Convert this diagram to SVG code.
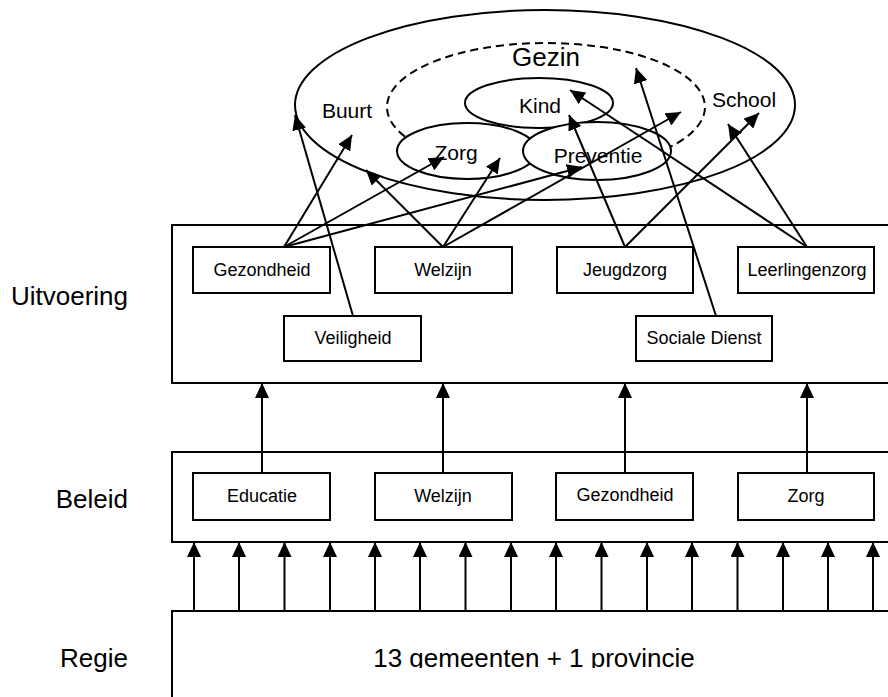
<svg xmlns="http://www.w3.org/2000/svg" width="888" height="697" viewBox="0 0 888 697">
<style>
text{font-family:"Liberation Sans",Arial,sans-serif;fill:#000}
.box{fill:#fff;stroke:#000;stroke-width:2}
.ell{fill:#fff;stroke:#000;stroke-width:2}
.dash{fill:none;stroke:#000;stroke-width:2;stroke-dasharray:8,5}
.lbl{font-size:26px}
.el{font-size:21px;text-anchor:middle}
.bt{font-size:18px;text-anchor:middle}
.con line{stroke:#000;stroke-width:2;marker-end:url(#ah)}
</style>
<defs>
<marker id="ah" markerUnits="userSpaceOnUse" markerWidth="15" markerHeight="14" refX="15" refY="7" orient="auto"><path d="M0,0 L15,7 L0,14 z" fill="#000"/></marker>
<clipPath id="clipb"><rect x="0" y="0" width="888" height="668"/></clipPath>
</defs>
<rect width="888" height="697" fill="#fff"/>

<g id="label-uitvoering"><text class="lbl" x="128" y="305" text-anchor="end">Uitvoering</text></g>
<g id="label-beleid"><text class="lbl" x="128" y="508" text-anchor="end">Beleid</text></g>
<g id="label-regie"><text class="lbl" x="128" y="667" text-anchor="end">Regie</text></g>

<g id="buurt"><ellipse class="ell" cx="545" cy="105" rx="250" ry="95"/><text class="el" x="347" y="118">Buurt</text></g>
<g id="school"><text class="el" x="744" y="107">School</text></g>
<g id="gezin"><path class="dash" d="M405,136.6 A159,64 0 1 1 660,151.6"/><text x="546" y="66" font-size="26" text-anchor="middle">Gezin</text></g>
<g id="kind"><ellipse class="ell" cx="539" cy="103" rx="74" ry="25"/><text class="el" x="540" y="113">Kind</text></g>
<g id="zorg"><ellipse class="ell" cx="467" cy="151" rx="70" ry="28"/><text class="el" x="456" y="160">Zorg</text></g>
<g id="preventie"><ellipse class="ell" cx="597" cy="151" rx="74" ry="29"/><text class="el" x="598" y="163">Preventie</text></g>

<g id="uitvoering"><rect class="box" x="172" y="225" width="720" height="158"/></g>
<g id="u-gezondheid"><rect class="box" x="193" y="247" width="137" height="46"/><text class="bt" x="262" y="276">Gezondheid</text></g>
<g id="u-welzijn"><rect class="box" x="375" y="247" width="137" height="46"/><text class="bt" x="443" y="276">Welzijn</text></g>
<g id="u-jeugdzorg"><rect class="box" x="557" y="247" width="136" height="46"/><text class="bt" x="625" y="276">Jeugdzorg</text></g>
<g id="u-leerlingenzorg"><rect class="box" x="738" y="247" width="136" height="46"/><text class="bt" x="807" y="276">Leerlingenzorg</text></g>
<g id="u-veiligheid"><rect class="box" x="284" y="316" width="137" height="45"/><text class="bt" x="353" y="344">Veiligheid</text></g>
<g id="u-sociale-dienst"><rect class="box" x="636" y="316" width="136" height="45"/><text class="bt" x="704" y="344">Sociale Dienst</text></g>

<g id="beleid"><rect class="box" x="172" y="452" width="720" height="90"/></g>
<g id="b-educatie"><rect class="box" x="193" y="473" width="137" height="47"/><text class="bt" x="262" y="502">Educatie</text></g>
<g id="b-welzijn"><rect class="box" x="375" y="473" width="137" height="47"/><text class="bt" x="443" y="502">Welzijn</text></g>
<g id="b-gezondheid"><rect class="box" x="556" y="473" width="137" height="47"/><text class="bt" x="625" y="501">Gezondheid</text></g>
<g id="b-zorg"><rect class="box" x="738" y="473" width="136" height="47"/><text class="bt" x="806" y="502">Zorg</text></g>

<g id="regie"><rect class="box" x="172" y="611" width="720" height="100"/><text x="534" y="667" font-size="26" text-anchor="middle" clip-path="url(#clipb)">13 gemeenten + 1 provincie</text></g>

<g id="connectors" class="con">
<line x1="353" y1="316" x2="295" y2="115"/>
<line x1="284" y1="247" x2="352" y2="135"/>
<line x1="284" y1="247" x2="444" y2="157"/>
<line x1="284" y1="247" x2="582" y2="167"/>
<line x1="443" y1="247" x2="366" y2="170"/>
<line x1="443" y1="247" x2="500" y2="158"/>
<line x1="443" y1="247" x2="681" y2="112"/>
<line x1="625" y1="247" x2="569" y2="115"/>
<line x1="625" y1="247" x2="759" y2="113"/>
<line x1="807" y1="247" x2="570" y2="90"/>
<line x1="807" y1="247" x2="728" y2="124"/>
<line x1="716" y1="316" x2="636" y2="68"/>
<line x1="262" y1="473" x2="262" y2="383"/>
<line x1="443" y1="473" x2="443" y2="383"/>
<line x1="625" y1="473" x2="625" y2="383"/>
<line x1="807" y1="473" x2="807" y2="383"/>
<line x1="194" y1="611" x2="194" y2="542"/>
<line x1="239" y1="611" x2="239" y2="542"/>
<line x1="284.5" y1="611" x2="284.5" y2="542"/>
<line x1="330" y1="611" x2="330" y2="542"/>
<line x1="375" y1="611" x2="375" y2="542"/>
<line x1="420" y1="611" x2="420" y2="542"/>
<line x1="465.5" y1="611" x2="465.5" y2="542"/>
<line x1="511" y1="611" x2="511" y2="542"/>
<line x1="556" y1="611" x2="556" y2="542"/>
<line x1="601.5" y1="611" x2="601.5" y2="542"/>
<line x1="647" y1="611" x2="647" y2="542"/>
<line x1="692" y1="611" x2="692" y2="542"/>
<line x1="737.5" y1="611" x2="737.5" y2="542"/>
<line x1="783" y1="611" x2="783" y2="542"/>
<line x1="828" y1="611" x2="828" y2="542"/>
<line x1="873" y1="611" x2="873" y2="542"/>
</g>
</svg>
